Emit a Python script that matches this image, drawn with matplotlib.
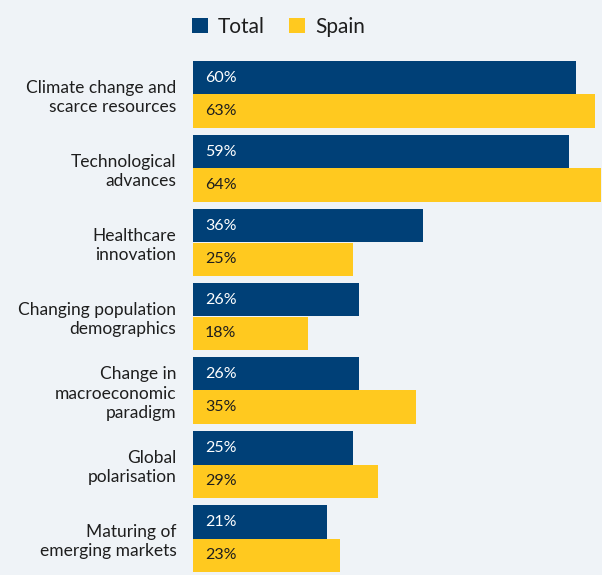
import numpy as np
import matplotlib.pyplot as plt

categories = ['Climate change and\nscarce resources', 'Technological\nadvances',
              'Healthcare\ninnovation', 'Changing population\ndemographics',
              'Change in\nmacroeconomic\nparadigm', 'Global\npolarisation',
              'Maturing of\nemerging markets']
total = [60, 59, 36, 26, 26, 25, 21]
spain = [63, 64, 25, 18, 35, 29, 23]

navy = '#004077'
yellow = '#ffc91f'
bg = '#eff3f7'
txt = '#1e1e1e'

plt.rcParams['font.family'] = ['Lato', 'DejaVu Sans']

fig = plt.figure(figsize=(6.02, 5.75), dpi=100, facecolor=bg)
ax = fig.add_axes([193 / 602, 0, 409 / 602, 520 / 575])
ax.set_facecolor(bg)

y = np.arange(len(categories))
h = 0.453
b1 = ax.barh(y - h / 2, total, height=h, color=navy, label='Total')
b2 = ax.barh(y + h / 2, spain, height=h, color=yellow, label='Spain')

# value labels inside the bars
for yi, v in zip(y, total):
    ax.text(1.9, yi - h / 2, f'{v}%', color='white', va='center', ha='left', fontsize=11.5)
for yi, v in zip(y, spain):
    ax.text(1.9, yi + h / 2, f'{v}%', color=txt, va='center', ha='left', fontsize=11.5)

ax.set_xlim(0, 64.1)
ax.set_ylim((575 - 94.5) / 74, (55 - 94.5) / 74)
ax.set_yticks(y)
ax.set_yticklabels(categories, fontsize=12.5, color=txt, linespacing=1.25)
ax.tick_params(axis='y', length=0, pad=12)
ax.set_xticks([])
for s in ax.spines.values():
    s.set_visible(False)

fig.legend(handles=[b1, b2], loc='upper left', bbox_to_anchor=(173 / 602, 1 + 2 / 575),
           ncol=2, frameon=False, fontsize=15, handlelength=0.8, handleheight=0.8,
           handletextpad=0.45, columnspacing=1.15, labelcolor=txt)

fig.savefig('out.png', dpi=100, facecolor=bg)
